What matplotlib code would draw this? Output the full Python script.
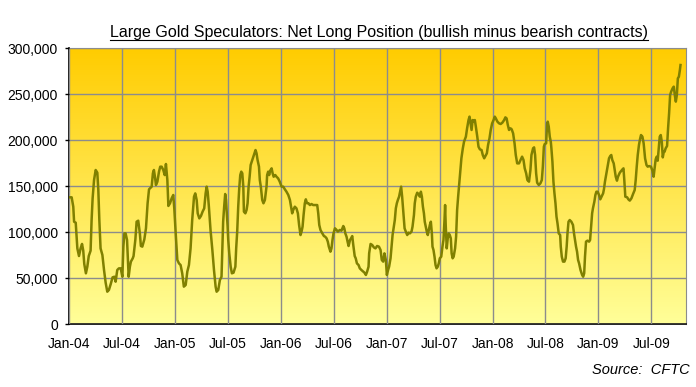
import numpy as np
import matplotlib.pyplot as plt
from matplotlib.colors import LinearSegmentedColormap
from matplotlib.ticker import FuncFormatter
from matplotlib.lines import Line2D

plt.rcParams['font.family'] = ['Liberation Sans', 'DejaVu Sans']

# weeks since the first report of Jan 2004
weeks = [
    0.0, 1.3, 2.1, 2.5, 3.3, 3.8, 4.1, 4.9, 5.7, 6.4, 7.0, 7.5, 8.3, 9.0, 9.7,
    10.6, 11.1, 11.6, 12.3, 13.1, 13.9, 14.4, 14.9, 15.5, 16.4, 17.2, 18.0, 18.8,
    19.6, 20.5, 21.4, 22.3, 22.9, 23.7, 24.5, 25.4, 26.2, 26.7, 27.2, 27.8, 28.5,
    29.3, 29.9, 30.4, 31.3, 31.7, 32.6, 33.2, 34.0, 34.8, 35.3, 36.0, 37.0, 37.8,
    38.6, 39.3, 39.8, 40.6, 41.2, 41.7, 42.2, 42.7, 43.4, 44.2, 44.8, 45.5, 46.3,
    47.0, 47.6, 48.3, 48.8, 49.6, 50.4, 51.2, 51.7, 52.4, 53.2, 54.0, 54.8, 55.6,
    56.4, 57.3, 58.1, 58.9, 59.7, 60.5, 61.4, 62.0, 62.7, 63.2, 64.0, 64.8, 65.6,
    66.4, 67.1, 67.6, 68.1, 68.7, 69.5, 70.4, 71.2, 72.0, 72.5, 73.3, 74.1,
    74.9, 75.3, 75.7, 76.2, 76.7, 77.1, 77.4, 77.9, 78.2, 78.7, 79.4, 80.0, 80.8,
    81.7, 82.1, 82.6, 83.1, 83.6, 84.1, 84.6, 85.1, 85.6, 85.9, 86.6, 87.2, 87.7,
    88.2, 88.7, 89.2, 90.0, 90.8, 91.6, 92.1, 92.6, 93.3, 93.7, 94.2, 94.9, 95.5,
    96.2, 97.0, 97.3, 97.8, 98.3, 98.8, 99.5, 100.0, 100.5, 101.3, 101.9, 102.7,
    103.5, 104.4, 105.2, 106.0, 106.8, 107.7, 108.5, 109.0, 109.6, 110.1, 110.9,
    111.7, 112.4, 113.0, 113.7, 114.2, 114.7, 115.2, 115.8, 116.3, 116.9, 117.6,
    118.3, 119.1, 119.9, 120.9, 121.9, 122.4, 122.9, 123.5, 124.2, 125.2, 125.8,
    126.5, 127.1, 127.6, 128.4, 128.9, 129.4, 129.9, 130.6, 131.4, 132.0, 133.0,
    133.8, 134.7, 135.2, 135.7, 136.3, 136.8, 137.3, 138.0, 138.5, 139.1, 139.6,
    140.3, 140.8, 141.4, 142.2, 142.8, 143.6, 144.5, 145.1, 145.8, 146.4, 147.1,
    147.4, 148.1, 148.9, 149.7, 150.5, 151.3, 152.2, 153.0, 153.6, 154.3, 154.9,
    155.6, 156.1, 156.7, 157.2, 157.9, 158.4, 158.9, 159.5, 160.0, 160.5, 161.0,
    161.5, 162.1, 162.6, 163.1, 163.6, 164.1, 164.8, 165.4, 166.1, 166.7, 167.4,
    168.2, 168.7, 169.4, 169.8, 170.3, 171.0, 171.6, 172.3, 172.8, 173.3, 173.8,
    174.3, 174.7, 175.2, 175.7, 176.2, 176.7, 177.2, 177.7, 178.2, 178.5, 179.0,
    179.5, 180.0, 180.5, 181.1, 181.6, 182.1, 182.8, 183.4, 183.9, 184.4, 184.7,
    185.0, 185.5, 186.0, 186.5, 187.0, 187.5, 187.9, 188.4, 188.9, 189.6, 190.1,
    190.6, 191.1, 191.6, 192.1, 192.7, 193.4, 194.0, 194.9, 195.5, 196.2, 196.7,
    197.2, 197.7, 198.2, 198.8, 199.3, 199.8, 200.5, 201.1, 201.8, 202.6, 203.2,
    203.9, 204.5, 205.2, 205.8, 206.5, 207.1, 207.8, 208.5, 209.1, 209.6, 210.4,
    211.2, 212.0, 212.8, 213.7, 214.3, 214.9, 215.5, 216.1, 216.8, 217.4, 218.1,
    218.8, 219.4, 220.1,
    221.0, 221.9, 222.5, 223.2, 223.8, 224.5, 225.1, 225.9, 226.6, 227.1, 227.9,
    228.4, 228.9, 229.4, 229.9, 230.7, 231.5, 232.2, 232.7, 233.2, 233.6, 234.3,
    234.8, 235.1, 235.6, 236.1, 236.6, 236.9, 237.4, 237.9, 238.4, 238.9, 239.4,
    239.9, 240.5, 241.2, 241.5, 242.0, 242.6, 243.3, 243.9, 244.4, 244.8, 245.3,
    245.9, 246.7, 247.5, 248.0, 248.5, 249.0, 249.5, 250.0, 250.5, 251.2, 252.0,
    252.5, 253.0, 253.4, 253.9, 254.6, 255.4, 255.9, 256.4, 256.9, 257.3, 258.0,
    258.5, 259.0, 259.6, 260.3, 260.9, 261.5, 262.3, 262.7, 263.2, 263.9, 264.6,
    265.2, 265.8, 266.3, 266.8, 267.5, 268.0, 268.5, 269.1, 269.6, 270.5, 271.3,
    271.8, 272.3, 272.7, 273.2, 274.1, 274.7, 275.4, 276.2, 277.0, 277.8, 278.3,
    278.8, 279.3, 279.9, 280.4, 280.9, 281.6, 282.2, 282.9, 283.6, 284.2, 284.8,
    285.8, 286.5, 287.1, 287.6, 288.1, 288.6, 289.1, 289.6, 290.1, 290.6, 291.1,
    291.6, 292.1, 292.5, 293.0, 293.7, 294.2, 294.7, 295.2, 295.7, 296.4, 297.0,
    297.5, 298.0, 298.5, 299.0, 299.5, 300.0, 300.3,
]

# net long position, thousands of contracts
net_long = [
    137.7, 137.7, 127.5, 111.2, 110.1, 93.1, 82.2, 73.9, 82.2, 87.0, 79.7, 65.2,
    55.1, 62.3, 73.9, 79.7, 113.0, 136.6, 156.5, 167.4, 164.5, 145.6, 113.0, 82.2,
    75.0, 58.7, 44.9, 35.1, 37.0, 43.5, 50.7, 51.4, 46.0, 58.7, 60.5, 60.5, 51.4,
    84.1, 98.5, 98.5, 91.3, 51.4, 62.3, 67.8, 71.4, 73.9, 92.0, 111.2, 112.3, 98.5,
    84.8, 84.1, 92.0, 104.0, 131.2, 146.4, 147.5, 149.3, 163.8, 167.4, 160.1, 151.1,
    154.7, 165.6, 171.0, 171.0, 167.4, 161.9, 173.9, 156.5, 128.3, 131.2, 136.6,
    140.2, 125.7, 98.5, 69.6, 65.9, 64.1, 55.1, 40.6, 42.4, 56.9, 64.1, 82.2, 113.0,
    138.4, 142.0, 134.8, 120.3, 114.8, 117.4, 122.1, 125.7, 142.0, 149.3, 143.8,
    127.5, 102.2, 80.4, 58.7, 40.6, 35.1, 37.0, 47.8,
    51.4, 82.2, 111.2, 127.5, 141.3, 134.8, 123.9, 105.8, 91.3, 76.8, 62.3, 55.1,
    55.8, 62.3, 82.2, 100.4, 127.5, 147.5, 161.9, 165.6, 163.8, 149.3, 122.1, 120.3,
    123.9, 131.2, 149.3, 160.1, 172.8, 178.3, 183.7, 189.1, 185.5, 178.3, 171.0,
    156.5, 149.3, 134.8, 131.2, 134.8, 149.3, 161.9, 165.6, 161.9, 166.7, 169.2,
    163.8, 160.1, 161.9, 160.1, 158.3, 154.7, 149.3, 149.3, 146.4, 143.8, 140.2,
    134.8, 128.3, 120.3, 123.9, 127.5, 125.7, 120.3, 107.6, 96.7, 100.4, 105.8,
    118.5, 131.2, 135.5, 131.2, 131.2, 129.3, 130.4, 129.3, 129.3, 129.3, 120.3,
    107.6, 102.2, 99.3, 95.6, 94.9, 93.1, 89.5, 84.1, 78.6, 82.2, 91.3, 98.5, 104.0,
    102.2, 100.4, 102.2, 101.4, 106.5, 104.0, 98.5, 94.9, 89.5, 84.8, 91.3, 93.1,
    95.6, 85.9, 73.9, 71.4, 65.9, 64.1, 60.5, 58.7, 56.9, 55.8, 53.3, 56.9, 62.3,
    76.8, 87.0, 85.9, 83.3, 82.2, 84.8, 84.1, 80.4, 69.6, 67.8, 76.8, 69.6, 53.3,
    58.7, 62.3, 71.4, 84.1, 96.7, 105.8, 113.0, 125.7, 131.2, 134.8, 138.4, 143.8,
    149.3, 138.4, 123.9, 104.0, 100.4, 96.7, 99.3, 98.5, 100.4, 105.8, 118.5, 131.2,
    138.4, 142.7, 141.3, 138.4, 143.8, 138.4, 127.5, 120.3, 111.2, 105.8, 100.4,
    96.7, 102.2, 107.6, 111.2, 98.5, 84.1, 80.4, 73.2, 64.1, 60.5, 62.3, 65.9, 71.4,
    73.2, 84.1, 91.3, 113.0, 129.3, 107.6, 82.2, 93.1, 98.5, 96.7, 93.1, 76.8, 71.4,
    73.2, 82.2, 94.9, 123.9, 138.4, 151.1, 163.8, 180.1, 190.9, 198.2, 203.6, 212.7,
    221.7, 225.4, 218.1, 210.9, 221.7, 219.9, 221.7, 214.5, 203.6, 192.7, 189.8,
    189.1, 183.7, 180.1, 182.6, 185.5, 194.6, 201.8, 210.9, 218.1, 221.7, 225.4,
    223.5, 219.9, 218.1, 217.4, 218.8, 221.7, 224.6, 223.5, 216.3, 210.9, 212.7,
    211.6, 207.2, 196.4, 183.7, 174.6,
    174.6, 179.0, 181.9, 178.3, 169.2, 163.8, 156.5, 154.7, 167.4, 183.7, 190.9,
    192.0, 183.7, 163.8, 153.6, 151.1, 152.9, 156.5, 171.0, 192.7, 195.6, 196.4,
    218.1, 219.9, 214.5, 203.6, 198.2, 190.9, 176.4, 154.7, 142.0, 131.2, 116.7,
    109.4, 98.5, 96.7, 84.1, 73.2, 67.8, 67.8, 71.4, 84.1, 98.5, 111.2, 113.0,
    111.2, 107.6, 98.5, 91.3, 84.1, 78.6, 69.6, 65.9, 58.7, 53.3, 51.4, 55.1, 73.2,
    89.5, 90.6, 89.5, 91.3, 105.8, 120.3, 125.7, 133.0, 140.2, 143.8, 143.8, 140.2,
    135.5, 138.4, 142.0, 146.4, 154.7, 163.8, 172.8, 180.1, 182.6, 183.7, 178.3,
    174.6, 167.4, 160.1, 155.8, 160.1, 164.5, 166.7, 168.1, 169.2, 156.5, 138.4,
    137.7, 135.5, 134.1, 136.6, 141.3, 145.6, 156.5, 171.0, 183.7, 194.6, 200.7,
    205.4, 203.6, 196.4, 180.1, 172.8, 171.0, 171.7, 171.0, 166.7, 160.1, 169.2,
    179.0, 181.9, 177.5, 190.9, 203.6, 205.4, 198.2, 181.1, 187.3, 187.3, 190.9,
    193.5, 212.7, 229.0, 248.9, 252.5, 256.1, 258.0, 248.9, 241.7, 248.9, 267.0,
    268.8, 276.1, 281.5,
]

tick_labels = ['Jan-04', 'Jul-04', 'Jan-05', 'Jul-05', 'Jan-06', 'Jul-06',
               'Jan-07', 'Jul-07', 'Jan-08', 'Jul-08', 'Jan-09', 'Jul-09']
tick_weeks = [26 * i for i in range(len(tick_labels))]
y_ticks = [0, 50000, 100000, 150000, 200000, 250000, 300000]

fig = plt.figure(figsize=(6.96, 3.87), dpi=100)
ax = fig.add_axes([69 / 696, 1 - 324 / 387, 617 / 696, 276 / 387])

# gold-to-pale-yellow background
bg = LinearSegmentedColormap.from_list('bg', ['#FFFF99', '#FFCC00'])
grad = np.linspace(0, 1, 256).reshape(-1, 1)
ax.imshow(grad, cmap=bg, aspect='auto', origin='lower',
          extent=[0, 1, 0, 1], transform=ax.transAxes, zorder=0)

ax.plot(weeks, np.array(net_long) * 1000, color='#808000', lw=1.8, zorder=3)

ax.set_xlim(0, 303)
ax.set_ylim(0, 300000)
ax.set_xticks(tick_weeks)
ax.set_xticklabels(tick_labels)
ax.set_yticks(y_ticks)
ax.yaxis.set_major_formatter(FuncFormatter(lambda v, p: f'{v:,.0f}'))
ax.grid(True, color='#8C8C8C', lw=1.0, zorder=1)
ax.set_axisbelow(False)

ax.tick_params(axis='x', length=0, pad=9, labelsize=10)
ax.tick_params(axis='y', length=3, width=1, pad=5, labelsize=10, direction='out')
for side in ['top', 'right']:
    ax.spines[side].set_color('#8C8C8C')
for side in ['left', 'bottom']:
    ax.spines[side].set_color('black')
    ax.spines[side].set_linewidth(1.2)

title = fig.text(379 / 696, 1 - 33 / 387,
                 'Large Gold Speculators: Net Long Position (bullish minus bearish contracts)',
                 ha='center', va='center', fontsize=11.5)
fig.text(690 / 696, 1 - 370 / 387, 'Source:  CFTC', ha='right', va='center',
         fontsize=10.5, style='italic')

# underline the title
fig.canvas.draw()
bb = title.get_window_extent()
W, H = fig.bbox.width, fig.bbox.height
fig.add_artist(Line2D([bb.x0 / W, bb.x1 / W], [(bb.y0 + 1) / H, (bb.y0 + 1) / H],
                      transform=fig.transFigure, color='black', lw=0.8))

fig.savefig('out.png', dpi=100)
